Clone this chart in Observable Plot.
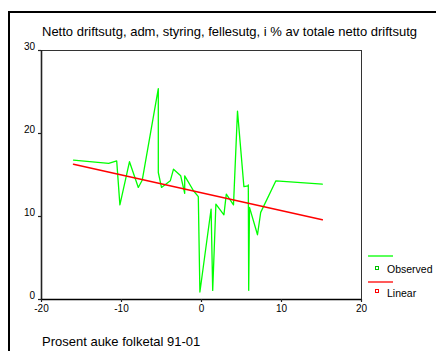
<!DOCTYPE html>
<html>
<head>
<meta charset="utf-8">
<script src="https://cdn.jsdelivr.net/npm/d3@7"></script>
<script src="https://cdn.jsdelivr.net/npm/@observablehq/plot@0.6"></script>
<style>
  html, body { margin: 0; padding: 0; background: #fff; }
  #wrap { position: relative; width: 436px; height: 351px; overflow: hidden; font-family: "Liberation Sans", Arial, sans-serif; }
  #border { position: absolute; left: 8px; top: 11px; width: 600px; height: 500px; border-left: 2px solid #000; border-top: 2px solid #000; box-sizing: border-box; }
  #chart { position: absolute; left: 0; top: 0; line-height: 0; }
  #chart svg { display: block; }
  #overlay { position: absolute; left: 0; top: 0; }
</style>
</head>
<body>
<div id="wrap">
  <div id="border"></div>
  <div id="chart"></div>
  <svg id="overlay" width="436" height="351"></svg>
</div>
<script>
// ---- data ----
const titleText = "Netto driftsutg, adm, styring, fellesutg, i % av totale netto driftsutg";
const xLabelText = "Prosent auke folketal 91-01";
const xTicks = [-20, -10, 0, 10, 20];
const yTicks = [0, 10, 20, 30];

// Observed series (sorted by x, connected)
const obsX = [-16.0, -11.6, -10.6, -10.2, -9.0, -7.9, -7.4, -5.4, -5.4, -5.0, -3.9, -3.5, -2.6, -2.1, -2.1, -1.0, -0.4, -0.2, 1.2, 1.4, 1.8, 2.8, 3.1, 4.0, 4.5, 5.3, 5.8, 5.85, 5.9, 6.0, 7.0, 7.4, 9.3, 15.1];
const obsY = [16.8, 16.4, 16.7, 11.4, 16.6, 13.5, 14.4, 25.4, 15.3, 13.5, 14.3, 15.7, 14.9, 12.8, 14.9, 13.1, 12.4, 0.9, 10.9, 1.1, 11.5, 10.2, 12.7, 11.4, 22.7, 13.6, 13.7, 13.8, 1.1, 11.1, 7.8, 10.5, 14.3, 13.9];

// Linear fit endpoints
const fitX = [-16.0, 15.1];
const fitY = [16.3, 9.6];

const legendLabels = ["Observed", "Linear"];
const legendColors = ["#00ff00", "#ff0000"];

// ---- build tables ----
const obs = obsX.map((x, i) => ({x, y: obsY[i]}));
const fit = fitX.map((x, i) => ({x, y: fitY[i]}));

const FONT = "'Liberation Sans', Arial, sans-serif";

const chart = Plot.plot({
  width: 436,
  height: 351,
  marginLeft: 41,
  marginRight: 75,
  marginTop: 50,
  marginBottom: 52,
  style: { fontFamily: FONT, fontSize: "10px", color: "#000", background: "transparent", overflow: "visible" },
  x: { domain: [-20, 20] },
  y: { domain: [0, 30] },
  marks: [
    Plot.frame({ stroke: "#333", strokeWidth: 1 }),
    Plot.line(obs, { x: "x", y: "y", stroke: "#00ff00", strokeWidth: 1.3 }),
    Plot.line(fit, { x: "x", y: "y", stroke: "#ff0000", strokeWidth: 1.5 }),
    Plot.ruleX([-20], { stroke: "#222", strokeWidth: 1.6 }),
    Plot.ruleY([0], { stroke: "#000", strokeWidth: 1.6 }),
    Plot.axisX({ ticks: xTicks, tickSize: 3, tickPadding: 2, tickFormat: d => String(d), label: null, stroke: "#222", strokeWidth: 1.2, fill: "#000", fontSize: 10 }),
    Plot.axisY({ ticks: yTicks, tickSize: 3, tickFormat: () => "", label: null, stroke: "#222", strokeWidth: 1.2 }),
    Plot.text(yTicks, { x: () => -20, y: d => d, text: d => String(d), textAnchor: "end", dx: -6.5, dy: -3.5, fill: "#000", fontSize: 10 })
  ]
});
document.getElementById("chart").appendChild(chart);

// ---- overlay texts and legend ----
const ov = d3.select("#overlay");
ov.append("text").attr("x", 42).attr("y", 36)
  .attr("font-family", FONT).attr("font-size", 13).attr("fill", "#000")
  .text(titleText);
ov.append("text").attr("x", 42).attr("y", 346)
  .attr("font-family", FONT).attr("font-size", 13).attr("fill", "#000")
  .text(xLabelText);

const lineYs = [256, 282];
const boxYs = [266.5, 289.5];
const textYs = [273, 296.5];
const boxStroke = ["#00c000", "#ff0000"];
legendLabels.forEach((lab, i) => {
  ov.append("line").attr("x1", 368).attr("x2", 393).attr("y1", lineYs[i]).attr("y2", lineYs[i])
    .attr("stroke", legendColors[i]).attr("stroke-width", 1.3);
  ov.append("rect").attr("x", 375.5).attr("y", boxYs[i]).attr("width", 3).attr("height", 3)
    .attr("fill", "#fff").attr("stroke", boxStroke[i]).attr("stroke-width", 1);
  ov.append("text").attr("x", 387).attr("y", textYs[i])
    .attr("font-family", FONT).attr("font-size", 10.5).attr("fill", "#000")
    .text(lab);
});
</script>
</body>
</html>
